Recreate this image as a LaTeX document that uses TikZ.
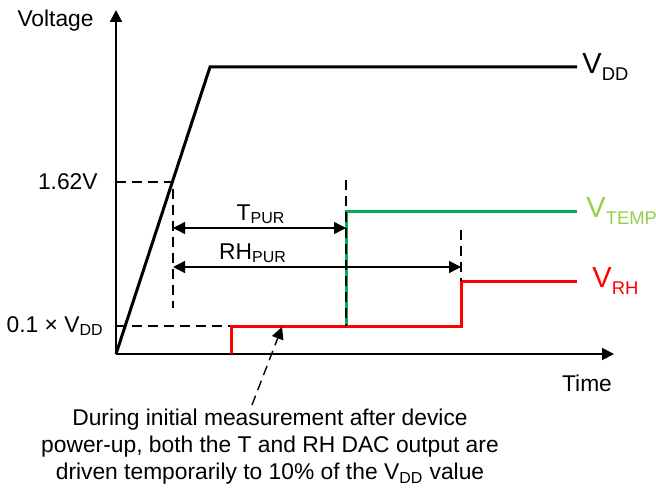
\documentclass[tikz,border=0pt]{standalone}
\usepackage{fontspec}
\setmainfont{Liberation Sans}
\usepackage{tikz}
\usetikzlibrary{arrows.meta,positioning}
\definecolor{tempgreen}{RGB}{0,176,80}
\definecolor{templabel}{RGB}{146,208,80}
\definecolor{rhred}{RGB}{255,0,0}
\newcommand{\sigsub}[1]{\raisebox{-0.45ex}{\fontsize{9.2}{10}\selectfont #1}}

\begin{document}
\begin{tikzpicture}[
    x=0.5pt, y=0.5pt,
    every node/.style={font=\fontsize{11.4}{13.5}\selectfont, inner sep=0pt},
    siglabel/.style={font=\fontsize{14.5}{16}\selectfont, anchor=west},
    axis/.style={-{Triangle[length=6pt, width=6pt]}, line width=0.9pt},
    supply/.style={line width=1.5pt, line join=miter},
    signal/.style={line width=1.5pt, line join=miter},
    guide/.style={dash pattern=on 5pt off 3pt, line width=0.7pt},
    dim/.style={{Triangle[length=6pt, width=6pt]}-{Triangle[length=6pt, width=6pt]}, line width=0.7pt},
    note/.style={-{Triangle[length=6pt, width=6pt]}, dash pattern=on 5pt off 3pt, line width=0.7pt},
]
    \useasboundingbox (-116,-139) rectangle (540,354);

    % axes
    \coordinate (origin) at (0,0);
    \coordinate (ytop) at (0,344);
    \coordinate (xend) at (498,0);
    \draw[axis] (origin) -- (ytop);
    \draw[axis] (origin) -- (xend);
    \node[anchor=east] (voltage) at (-22,333) {Voltage};
    \node (time) at (471,-29) {Time};

    % levels and guides
    \coordinate (ramp) at (57,172);
    \coordinate (lvlhigh) at (0,172);
    \coordinate (lvllow) at (0,28);
    \coordinate (rampfoot) at (57,46);
    \coordinate (redstart) at (115,28);
    \coordinate (tempmark) at (230,174);
    \coordinate (tempfoot) at (230,28);
    \coordinate (rhmark) at (345,124);
    \coordinate (rhfoot) at (345,73);
    \coordinate (tpurl) at (57,126);
    \coordinate (tpurr) at (230,126);
    \coordinate (rhpurl) at (57,87);
    \coordinate (rhpurr) at (345,87);
    \draw[guide] (lvlhigh) -- (ramp) -- (rampfoot);
    \draw[guide] (lvllow) -- (redstart);
    \node[anchor=east] (v162) at (-18,172) {1.62V};
    \node[anchor=east] (v01) at (-12,28) {0.1 × V\textsubscript{DD}};

    % supply
    \coordinate (vddtop) at (94,287);
    \coordinate (vddend) at (461,287);
    \draw[supply] (origin) -- (vddtop) -- (vddend);
    \node[siglabel] (vdd) at (466,287) {V\sigsub{DD}};

    % DAC outputs
    \draw[signal, tempgreen] (tempfoot) -- (230,143) -- (461,143);
    \node[siglabel, text=templabel] (vtemp) at (470,143) {V\sigsub{TEMP}};
    \draw[signal, rhred] (115,0) -- (redstart) -- (345,28) -- (rhfoot) -- (461,73);
    \node[siglabel, text=rhred] (vrh) at (476,73) {V\sigsub{RH}};

    \draw[guide] (tempmark) -- (tempfoot);
    \draw[guide] (rhmark) -- (rhfoot);

    % power-up times
    \draw[dim] (tpurl) -- (tpurr);
    \node (tpur) at (145,140) {T\textsubscript{PUR}};
    \draw[dim] (rhpurl) -- (rhpurr);
    \node (rhpur) at (137,101) {RH\textsubscript{PUR}};

    % annotation
    \node[align=center] (remark) at (154,-93)
        {During initial measurement after device\\
         power-up, both the T and RH DAC output are\\
         driven temporarily to 10\% of the V\textsubscript{DD} value};
    \coordinate (remarktip) at (166,27);
    \draw[note] (136,-51) -- (remarktip);
\end{tikzpicture}
\end{document}
